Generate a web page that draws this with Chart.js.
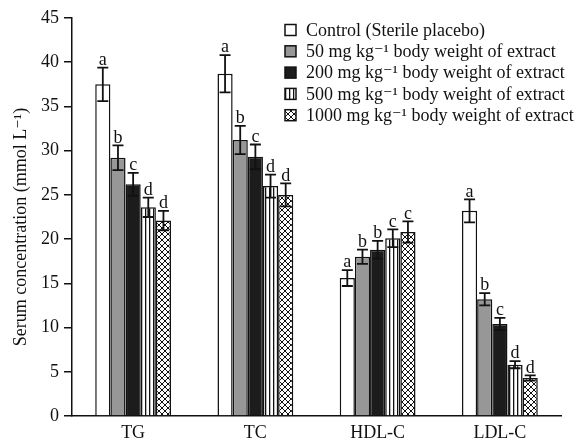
<!DOCTYPE html>
<html>
<head>
<meta charset="utf-8">
<script src="https://cdn.jsdelivr.net/npm/chart.js@4.4.1/dist/chart.umd.min.js"></script>
<style>
  html,body{margin:0;padding:0;background:#fff;}
  #wrap{width:583px;height:440px;}
</style>
</head>
<body>
<div id="wrap"><canvas id="serumChart" width="583" height="440"></canvas></div>
<script>
/* DATA */
const categories = ['TG', 'TC', 'HDL-C', 'LDL-C'];
const seriesLabels = [
  'Control (Sterile placebo)',
  '50 mg kg\u207B\u00B9 body weight of extract',
  '200 mg kg\u207B\u00B9 body weight of extract',
  '500 mg kg\u207B\u00B9 body weight of extract',
  '1000 mg kg\u207B\u00B9 body weight of extract'
];
const control  = [37.5, 38.7, 15.6, 23.2];
const dose50   = [29.2, 31.2, 18.0, 13.2];
const dose200  = [26.2, 29.3, 18.8, 10.4];
const dose500  = [23.6, 26.0, 20.1, 5.8];
const dose1000 = [22.1, 25.0, 20.8, 4.3];

const errControl  = [1.9, 2.1, 0.9, 1.3];
const err50       = [1.4, 1.6, 0.8, 0.7];
const err200      = [1.3, 1.4, 1.0, 0.7];
const err500      = [1.1, 1.3, 1.0, 0.4];
const err1000     = [1.1, 1.3, 1.2, 0.3];

const letControl = ['a', 'a', 'a', 'a'];
const let50      = ['b', 'b', 'b', 'b'];
const let200     = ['c', 'c', 'b', 'c'];
const let500     = ['d', 'd', 'c', 'd'];
const let1000    = ['d', 'd', 'c', 'd'];

const yTicks = [0, 5, 10, 15, 20, 25, 30, 35, 40, 45];
const yTitle = 'Serum concentration (mmol L\u207B\u00B9)';

const FONT = '"Liberation Serif", "DejaVu Serif", serif';

/* PATTERNS */
function stripePattern(){
  const c = document.createElement('canvas');
  c.width = 4; c.height = 4;
  const g = c.getContext('2d');
  g.fillStyle = '#fff'; g.fillRect(0,0,4,4);
  g.fillStyle = '#111'; g.fillRect(1,0,1.3,4);
  return g.createPattern(c,'repeat');
}
function crossPattern(){
  const c = document.createElement('canvas');
  c.width = 6; c.height = 6;
  const g = c.getContext('2d');
  g.fillStyle = '#fff'; g.fillRect(0,0,6,6);
  g.strokeStyle = '#111'; g.lineWidth = 1;
  g.beginPath();
  g.moveTo(0,0); g.lineTo(6,6);
  g.moveTo(6,0); g.lineTo(0,6);
  g.stroke();
  return g.createPattern(c,'repeat');
}

const fills = ['#ffffff', '#979797', '#1c1c1c', stripePattern(), crossPattern()];
const values = [control, dose50, dose200, dose500, dose1000];
const errors = [errControl, err50, err200, err500, err1000];
const letters = [letControl, let50, let200, let500, let1000];

/* ERROR BARS + LETTERS */
const errorBarPlugin = {
  id: 'errorBars',
  afterDatasetsDraw(chart){
    const ctx = chart.ctx;
    const y = chart.scales.y;
    ctx.save();
    ctx.strokeStyle = '#111';
    ctx.fillStyle = '#111';
    ctx.lineWidth = 1.8;
    ctx.font = '18px ' + FONT;
    ctx.textAlign = 'center';
    ctx.textBaseline = 'bottom';
    chart.data.datasets.forEach((ds, i) => {
      const meta = chart.getDatasetMeta(i);
      meta.data.forEach((bar, j) => {
        const v = values[i][j], e = errors[i][j];
        const top = y.getPixelForValue(v + e);
        const bot = y.getPixelForValue(v - e);
        const x = bar.x, hw = 5.5;
        ctx.beginPath();
        ctx.moveTo(x, top); ctx.lineTo(x, bot);
        ctx.moveTo(x - hw, top); ctx.lineTo(x + hw, top);
        ctx.moveTo(x - hw, bot); ctx.lineTo(x + hw, bot);
        ctx.stroke();
        ctx.fillText(letters[i][j], x, top + 1.5);
      });
    });
    ctx.restore();
  }
};

/* LEGEND + Y TITLE */
const legendPlugin = {
  id: 'boxLegend',
  afterDraw(chart){
    const ctx = chart.ctx;
    ctx.save();
    ctx.font = '18px ' + FONT;
    ctx.textBaseline = 'middle';
    ctx.textAlign = 'left';
    seriesLabels.forEach((lab, i) => {
      const cy = 30 + i * 21.3;
      ctx.fillStyle = fills[i];
      ctx.fillRect(285, cy - 5.5, 11, 11);
      ctx.strokeStyle = '#111';
      ctx.lineWidth = 1.5;
      ctx.strokeRect(285, cy - 5.5, 11, 11);
      ctx.fillStyle = '#111';
      ctx.fillText(lab, 306, cy + 1);
    });
    // axis title
    ctx.translate(21, 227);
    ctx.rotate(-Math.PI / 2);
    ctx.textAlign = 'center';
    ctx.fillText(yTitle, 0, 0);
    ctx.restore();
  }
};

new Chart(document.getElementById('serumChart'), {
  type: 'bar',
  data: {
    labels: categories,
    datasets: seriesLabels.map((lab, i) => ({
      label: lab,
      data: values[i],
      backgroundColor: fills[i],
      borderColor: '#111',
      borderWidth: 1.5,
      borderSkipped: 'bottom',
      categoryPercentage: 0.62,
      barPercentage: 1.0
    }))
  },
  options: {
    responsive: false,
    animation: false,
    devicePixelRatio: 1,
    layout: {padding: {left: 0, right: 22, top: 18, bottom: 0}},
    plugins: {legend: {display: false}, tooltip: {enabled: false}},
    scales: {
      x: {
        grid: {display: false, drawTicks: false},
        border: {display: true, color: '#111', width: 1.5},
        ticks: {color: '#111', font: {family: FONT, size: 18}, padding: 6},
        afterFit(s){ s.height = 24; }
      },
      y: {
        min: 0, max: 45,
        afterBuildTicks(s){ s.ticks = yTicks.map(v => ({value: v})); },
        grid: {display: true, drawOnChartArea: false, drawTicks: true, tickLength: 8, color: '#111', lineWidth: 1.5},
        border: {display: true, color: '#111', width: 1.5},
        ticks: {color: '#111', font: {family: FONT, size: 18}, padding: 5},
        afterFit(s){ s.width = 72; }
      }
    }
  },
  plugins: [errorBarPlugin, legendPlugin]
});
</script>
</body>
</html>
